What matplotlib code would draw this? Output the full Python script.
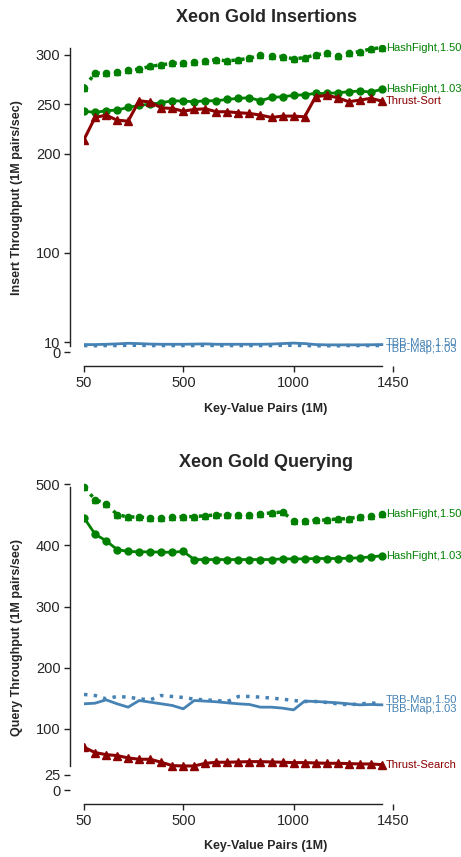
import numpy as np
import matplotlib
matplotlib.use('Agg')
import matplotlib.pyplot as plt

plt.rcParams['font.family'] = ['Liberation Sans', 'DejaVu Sans']

# Dữ liệu: số cặp khóa-giá trị (triệu)
pairs = list(range(50, 1401, 50))

# Biểu đồ chèn (insert throughput)
ins_hf_103 = [243.2, 241.9, 243.6, 244.3, 247.0, 249.0, 250.3, 251.7, 253.7, 253.4,
              252.7, 253.7, 253.7, 255.1, 256.1, 256.8, 253.7, 257.1, 257.8, 259.1,
              259.8, 261.1, 261.1, 261.8, 262.8, 263.5, 262.5, 265.2]
ins_hf_150 = [267.0, 281.5, 282.0, 283.0, 284.8, 285.5, 288.5, 290.0, 291.5, 292.2,
              292.6, 294.0, 295.0, 294.0, 295.0, 296.6, 300.0, 298.6, 298.3, 296.0,
              297.3, 300.0, 301.7, 299.3, 301.7, 303.3, 306.0, 307.4]
ins_thrust = [214.5, 236.8, 239.2, 234.1, 233.1, 253.7, 252.4, 246.6, 245.9, 243.2,
              244.9, 245.6, 242.6, 242.6, 241.6, 240.9, 239.2, 236.8, 238.2, 238.2,
              237.5, 257.8, 259.1, 256.8, 252.7, 254.4, 256.1, 253.4]
ins_tbb_103 = [7.5, 7.5, 7.8, 8.2, 8.8, 8.5, 8.0, 7.8, 7.8, 7.8, 8.0, 8.2, 7.8, 7.8,
               7.8, 7.8, 7.8, 8.0, 8.5, 9.0, 8.5, 7.5, 7.2, 7.2, 7.2, 7.2, 7.3, 7.5]
ins_tbb_150 = [6.5, 6.3, 6.5, 6.5, 6.8, 6.8, 6.5, 6.5, 6.5, 6.5, 6.5, 6.8, 6.5, 6.5,
               6.5, 6.5, 6.5, 6.5, 6.8, 6.8, 6.5, 6.3, 6.3, 6.3, 6.5, 6.5, 6.5, 6.5]

# Biểu đồ truy vấn (query throughput)
q_hf_103 = [445.4, 418.6, 407.7, 393.4, 390.2, 389.6, 389.6, 389.0, 389.0, 390.2,
            377.0, 377.0, 377.0, 377.0, 377.0, 377.0, 377.0, 377.0, 378.1, 378.1,
            378.1, 378.7, 378.7, 378.7, 379.2, 379.8, 381.4, 383.1]
q_hf_150 = [496.0, 475.0, 468.5, 450.5, 446.6, 446.6, 445.0, 445.0, 446.1, 447.2,
            447.2, 448.8, 449.9, 449.9, 450.5, 450.5, 452.1, 453.2, 454.8, 440.6,
            440.6, 441.2, 441.7, 443.4, 443.9, 447.2, 448.8, 452.1]
q_thrust = [70.0, 61.2, 57.9, 56.3, 52.5, 50.3, 50.3, 45.4, 39.9, 39.3,
            39.3, 43.7, 45.4, 45.4, 45.9, 46.4, 46.4, 45.9, 45.4, 44.8,
            44.8, 44.3, 43.7, 43.7, 43.2, 42.6, 42.6, 41.5]
q_tbb_103 = [141.0, 142.0, 147.5, 141.0, 135.5, 146.4, 143.7, 141.0, 138.3, 132.8,
             146.4, 145.4, 144.3, 142.6, 141.0, 139.9, 135.5, 135.5, 133.9, 131.1,
             145.4, 144.8, 143.7, 142.6, 141.0, 139.3, 139.9, 139.3]
q_tbb_150 = [156.3, 154.6, 149.2, 153.0, 151.9, 149.2, 147.5, 154.6, 153.0, 151.4,
             148.6, 147.5, 146.4, 144.8, 153.0, 153.0, 151.9, 150.3, 148.6, 146.4,
             144.8, 144.8, 143.2, 141.0, 139.3, 141.0, 142.1, 142.1]

green = '#008000'
red = '#8b0000'
blue = '#4682b4'
dotted = (0, (1, 1.8))

fig = plt.figure(figsize=(4.61, 8.57), dpi=100)
ax1 = fig.add_axes([84 / 461, 1 - 352 / 857, 364 / 461, 307 / 857])
ax2 = fig.add_axes([84 / 461, 1 - 790 / 857, 364 / 461, 308.7 / 857])


def draw(ax, hf103, hf150, thr, thr_name, tbb103, tbb150, yticks, ylim):
    ax.plot(pairs, hf150, color=green, ls=dotted, lw=2.5, marker='^', ms=5, zorder=3)
    ax.plot(pairs, hf150, color=green, ls='none', marker='o', ms=4.5, zorder=3)
    ax.plot(pairs, hf103, color=green, lw=2, marker='o', ms=5, zorder=3)
    ax.plot(pairs, thr, color=red, lw=2.2, marker='^', ms=6, zorder=3)
    ax.plot(pairs, tbb150, color=blue, ls=dotted, lw=2.5, zorder=2)
    ax.plot(pairs, tbb103, color=blue, lw=2, zorder=2)

    # nhãn ở cuối mỗi đường
    labels = [(hf150, 'HashFight,1.50', green, 0), (hf103, 'HashFight,1.03', green, 0),
              (thr, thr_name, red, 0), (tbb150, 'TBB-Map,1.50', blue, 2),
              (tbb103, 'TBB-Map,1.03', blue, -3)]
    for ys, name, c, dy in labels:
        ax.annotate(name, (pairs[-1], ys[-1]), xytext=(3, dy), textcoords='offset points',
                    va='center', ha='left', fontsize=8, color=c, annotation_clip=False)

    ax.set_xlim(50, 1700)
    ax.set_ylim(*ylim)
    ax.set_xticks([50, 500, 1000, 1450])
    ax.set_yticks(yticks)
    for s in ['top', 'right']:
        ax.spines[s].set_visible(False)
    for s in ['left', 'bottom']:
        ax.spines[s].set_position(('outward', 10))
        ax.spines[s].set_color('#222222')
        ax.spines[s].set_linewidth(1)
    allv = hf103 + hf150 + thr + tbb103 + tbb150
    ax.spines['left'].set_bounds(min(allv), max(allv))
    ax.spines['bottom'].set_bounds(pairs[0], pairs[-1])
    ax.tick_params(direction='out', length=4, width=1, color='#222222',
                   labelsize=10.5, labelcolor='#262626', pad=3)
    ax.patch.set_visible(False)


draw(ax1, ins_hf_103, ins_hf_150, ins_thrust, 'Thrust-Sort', ins_tbb_103, ins_tbb_150,
     [0, 10, 100, 200, 250, 300], (0, 310))
draw(ax2, q_hf_103, q_hf_150, q_thrust, 'Thrust-Search', q_tbb_103, q_tbb_150,
     [0, 25, 100, 200, 300, 400, 500], (0, 505))

tc = '#262626'
fig.text(266 / 461, 1 - 22 / 857, 'Xeon Gold Insertions', ha='center', va='baseline',
         fontsize=13, fontweight='bold', color=tc)
fig.text(266 / 461, 1 - 467 / 857, 'Xeon Gold Querying', ha='center', va='baseline',
         fontsize=13, fontweight='bold', color=tc)
fig.text(266 / 461, 1 - 409 / 857, 'Key-Value Pairs (1M)', ha='center', va='center',
         fontsize=9, fontweight='bold', color=tc)
fig.text(266 / 461, 1 - 846 / 857, 'Key-Value Pairs (1M)', ha='center', va='center',
         fontsize=9, fontweight='bold', color=tc)
fig.text(17 / 461, 1 - 198 / 857, 'Insert Throughput (1M pairs/sec)', ha='center',
         va='center', rotation=90, fontsize=9, fontweight='bold', color=tc)
fig.text(17 / 461, 1 - 637 / 857, 'Query Throughput (1M pairs/sec)', ha='center',
         va='center', rotation=90, fontsize=9, fontweight='bold', color=tc)

fig.savefig('out.png', dpi=100)
